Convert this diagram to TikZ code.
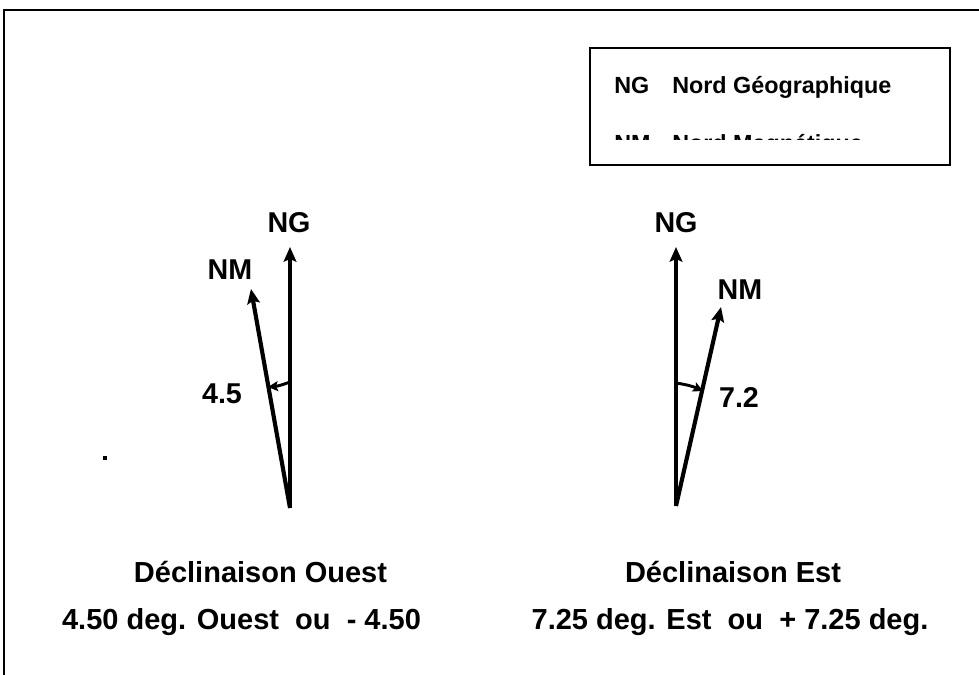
\documentclass[tikz,border=0pt]{standalone}
\usepackage{fontspec}
\setmainfont{Liberation Sans}
\usetikzlibrary{arrows.meta}
\tikzset{
  lbl/.style={font=\fontsize{21.5}{25}\selectfont\bfseries, inner sep=0pt},
  captxt/.style={font=\fontsize{21.75}{25}\selectfont\bfseries, inner sep=0pt, anchor=base},
  leg/.style={font=\fontsize{17.5}{20}\selectfont\bfseries, inner sep=0pt, anchor=base west},
  vec/.style={line width=3.1pt, -{Stealth[length=11pt,width=9.5pt,inset=2pt]}},
  small/.style={line width=2.2pt, -{Stealth[length=7.5pt,width=7.5pt,inset=1.5pt]}},
}
\begin{document}
\begin{tikzpicture}[x=0.75pt,y=-0.75pt]
\useasboundingbox (0,0) rectangle (979,675);
% frame (top and left only)
\draw[line width=1.5pt] (3,9.5) -- (979,9.5);
\draw[line width=1.5pt] (4,9.5) -- (4,675);
% legend
\node[draw, line width=2pt, minimum width=270pt, minimum height=87.75pt, inner sep=0pt] (legend) at (770,106.5) {};
\node[leg] (lngA) at (614,93) {NG};
\node[leg] (lngB) at (672,93) {Nord Géographique};
\begin{scope}
\clip (592,128) rectangle (948,139.5);
\node[leg] (lnmA) at (614,151) {NM};
\node[leg] (lnmB) at (672,151) {Nord Magnétique};
\end{scope}
% left diagram
\coordinate (Lo) at (290,508);
\coordinate (Lng) at (290,247);
\coordinate (Lnm) at (251,289);
\draw[vec] (Lo) -- (Lng);
\draw[vec] (Lo) -- (Lnm);
\coordinate (La) at (290,382);
\coordinate (Lb) at (268,387);
\draw[small] (La) to[bend left=8] (Lb);
\node[lbl] (LNG) at (289,223) {NG};
\node[lbl] (LNM) at (230,270) {NM};
\node[lbl] (L45) at (222,394) {4.5};
% right diagram
\coordinate (Ro) at (676,506);
\coordinate (Rng) at (676,247);
\coordinate (Rnm) at (721,307);
\draw[vec] (Ro) -- (Rng);
\draw[vec] (Ro) -- (Rnm);
\coordinate (Ra) at (676,383);
\coordinate (Rb) at (703,391);
\draw[small] (Ra) to[bend left=8] (Rb);
\node[lbl] (RNG) at (676,223) {NG};
\node[lbl] (RNM) at (740,290) {NM};
\node[lbl] (R72) at (739,397) {7.2};
% dot
\node[fill, inner sep=0pt, minimum size=2.5pt] (dot) at (105,458) {};
% captions
\node[captxt] (c1) at (260.5,582) {Déclinaison Ouest};
\node[captxt] (c2) at (241.5,629) {4.50 deg. Ouest\ \ ou\ \ - 4.50};
\node[captxt] (c3) at (733,582) {Déclinaison Est};
\node[captxt] (c4) at (730,629) {7.25 deg. Est\ \ ou\ \ + 7.25 deg.};
\end{tikzpicture}
\end{document}
